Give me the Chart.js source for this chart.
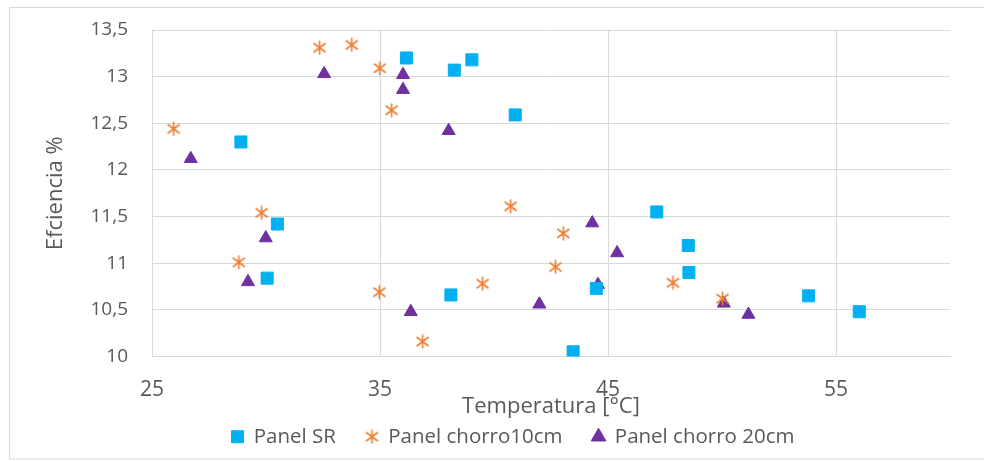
<!DOCTYPE html>
<html>
<head>
<meta charset="utf-8">
<script src="https://cdn.jsdelivr.net/npm/chart.js"></script>
<style>
  body { margin: 0; background: #fff; }
</style>
</head>
<body>
<canvas id="myChart" width="984" height="462"></canvas>
<script>
// Panel SR
const srX = [28.9, 30.5, 30.05, 36.16, 38.26, 39.03, 40.93, 38.11, 43.47, 44.49, 47.14, 48.52, 48.55, 53.8, 56.02];
const srY = [12.30, 11.42, 10.84, 13.20, 13.07, 13.18, 12.59, 10.66, 10.05, 10.73, 11.55, 11.19, 10.90, 10.65, 10.48];
// Panel chorro 10cm
const c10X = [25.95, 32.35, 33.76, 34.99, 35.51, 29.81, 28.81, 34.97, 36.87, 39.5, 40.73, 43.04, 42.7, 47.85, 50.02];
const c10Y = [12.44, 13.31, 13.34, 13.09, 12.64, 11.54, 11.01, 10.69, 10.16, 10.78, 11.61, 11.32, 10.96, 10.79, 10.62];
// Panel chorro 20cm
const c20X = [26.7, 32.55, 36.01, 36.01, 38.01, 29.99, 29.21, 36.35, 44.31, 41.99, 44.56, 45.4, 50.08, 51.16];
const c20Y = [12.12, 13.03, 13.02, 12.86, 12.42, 11.27, 10.80, 10.48, 11.43, 10.56, 10.77, 11.11, 10.57, 10.45];

const xTicks = [25, 35, 45, 55];
const yTicks = [10, 10.5, 11, 11.5, 12, 12.5, 13, 13.5];

const pairs = (xs, ys) => xs.map((x, i) => ({ x: x, y: ys[i] }));

// asterisk marker like the excel one (vertical bar + X)
const star = document.createElement('canvas');
star.width = 15;
star.height = 15;
const sctx = star.getContext('2d');
sctx.strokeStyle = '#ED7D31';
sctx.lineWidth = 1.6;
sctx.beginPath();
sctx.moveTo(7.5, 0.5); sctx.lineTo(7.5, 14.5);
sctx.moveTo(1.5, 3); sctx.lineTo(13.5, 12);
sctx.moveTo(1.5, 12); sctx.lineTo(13.5, 3);
sctx.stroke();

const frame = {
    id: 'frame',
    beforeDraw(chart) {
        const c = chart.ctx;
        c.save();
        c.fillStyle = '#fff';
        c.fillRect(0, 0, chart.width, chart.height);
        c.strokeStyle = '#d9d9d9';
        c.lineWidth = 1;
        c.strokeRect(9.5, 7.5, 990, 451.5);
        c.restore();
    }
};

const ctx = document.getElementById('myChart').getContext('2d');

const data = {
    datasets: [{
        label: 'Panel SR',
        data: pairs(srX, srY),
        backgroundColor: '#00B0F0',
        borderColor: '#00B0F0',
        pointStyle: 'rect',
        pointRadius: 8.5,
        borderWidth: 1
    }, {
        label: 'Panel chorro10cm',
        data: pairs(c10X, c10Y),
        backgroundColor: '#ED7D31',
        borderColor: '#ED7D31',
        pointStyle: star,
        pointRadius: 7
    }, {
        label: 'Panel chorro 20cm',
        data: pairs(c20X, c20Y),
        backgroundColor: '#7030A0',
        borderColor: '#7030A0',
        pointStyle: 'triangle',
        pointRadius: 7.5,
        borderWidth: 1
    }]
};

const config = {
    type: 'scatter',
    data: data,
    plugins: [frame],
    options: {
        responsive: false,
        animation: false,
        devicePixelRatio: 1,
        layout: {
            autoPadding: false,
            padding: { left: 42, right: 0, top: 30, bottom: 5 }
        },
        plugins: {
            tooltip: { enabled: false },
            legend: {
                position: 'bottom',
                labels: {
                    usePointStyle: true,
                    boxWidth: 12,
                    boxHeight: 12,
                    padding: 30,
                    color: '#595959',
                    font: { family: 'Open Sans', size: 20.5 }
                }
            }
        },
        scales: {
            x: {
                type: 'linear',
                min: 25,
                max: 60,
                afterBuildTicks: (axis) => { axis.ticks = xTicks.map(v => ({ value: v })); },
                afterFit: (axis) => { axis.height = 40; },
                grid: { color: '#d9d9d9', drawTicks: false },
                border: { color: '#d9d9d9' },
                ticks: {
                    padding: 21,
                    color: '#595959',
                    font: { family: 'Open Sans', size: 21 }
                },
                title: {
                    display: true,
                    text: 'Temperatura [°C]',
                    color: '#595959',
                    padding: { top: 0, bottom: -23 },
                    font: { family: 'Open Sans', size: 22 }
                }
            },
            y: {
                min: 10,
                max: 13.5,
                afterBuildTicks: (axis) => { axis.ticks = yTicks.map(v => ({ value: v })); },
                afterFit: (axis) => {
                    axis.width = 110;
                    // tick padding should not push the plot down
                    axis.paddingTop = 0;
                    axis.paddingBottom = 0;
                },
                grid: { color: '#d9d9d9', drawTicks: false },
                border: { color: '#d9d9d9' },
                ticks: {
                    padding: 24,
                    color: '#595959',
                    font: { family: 'Open Sans', size: 19 },
                    callback: (v) => String(v).replace('.', ',')
                },
                title: {
                    display: true,
                    text: 'Efciencia %',
                    color: '#595959',
                    padding: { top: 1, bottom: 0 },
                    font: { family: 'Open Sans', size: 22 }
                }
            },
            // empty axis, only keeps the gap on the right like the original
            y2: {
                position: 'right',
                display: true,
                grid: { display: false },
                border: { display: false },
                ticks: { display: false },
                afterFit: (axis) => { axis.width = 34; }
            }
        }
    }
};

const myChart = new Chart(ctx, config);
</script>
</body>
</html>
